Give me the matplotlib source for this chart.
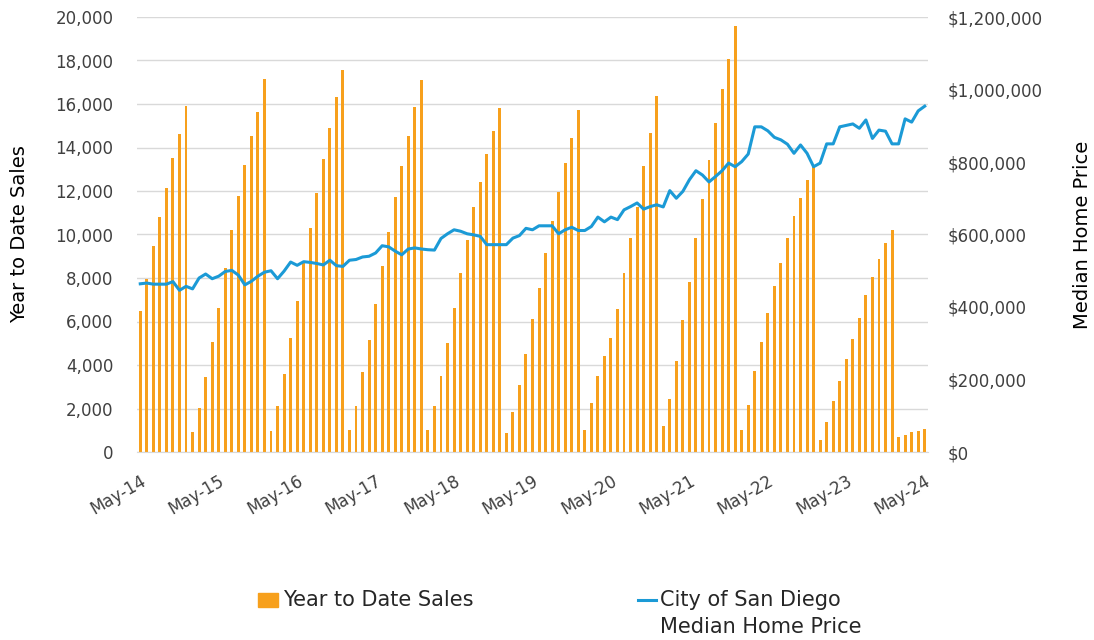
import matplotlib as mpl
import matplotlib.pyplot as plt
from matplotlib.patches import Rectangle
from matplotlib.lines import Line2D
from matplotlib.ticker import FuncFormatter

mpl.rcParams.update({
    'font.family': ['DejaVu Sans'],
    'text.color': '#404040',
    'xtick.color': '#404040',
    'ytick.color': '#404040',
})

# Monthly data, May-14 .. May-24
ytd_sales = [
    6500, 7950, 9480, 10790, 12150, 13530, 14610, 15920,                       # 2014
    920, 2020, 3440, 5080, 6630, 8460, 10210, 11770, 13190, 14550, 15650, 17130,  # 2015
    980, 2120, 3600, 5250, 6920, 8690, 10280, 11920, 13470, 14900, 16340, 17570,  # 2016
    1020, 2120, 3660, 5150, 6790, 8570, 10110, 11710, 13150, 14550, 15880, 17120,  # 2017
    1020, 2120, 3500, 4990, 6630, 8230, 9730, 11250, 12400, 13700, 14780, 15820,  # 2018
    870, 1850, 3100, 4520, 6120, 7540, 9150, 10630, 11940, 13300, 14440, 15710,   # 2019
    1020, 2230, 3500, 4410, 5250, 6580, 8230, 9820, 11280, 13150, 14670, 16380,   # 2020
    1210, 2430, 4180, 6060, 7820, 9820, 11630, 13420, 15120, 16670, 18090, 19590,  # 2021
    1020, 2170, 3730, 5080, 6400, 7650, 8690, 9820, 10840, 11700, 12500, 13100,   # 2022
    570, 1360, 2340, 3270, 4290, 5210, 6170, 7210, 8050, 8870, 9600, 10210,       # 2023
    690, 790, 920, 980, 1040,                                                    # 2024
]

# median price in $ thousands
median_price_k = [
    464, 466, 463, 463, 463, 470, 446, 457, 450, 480, 491, 478, 485, 498, 501, 488,
    461, 471, 485, 496, 500, 478, 499, 524, 515, 525, 523, 520, 516, 529, 514,
    512, 529, 531, 538, 540, 549, 569, 566, 554, 544, 560, 563, 560, 558, 557,
    589, 602, 613, 609, 602, 599, 595, 572, 572, 572, 572, 590, 597, 617, 613, 624,
    624, 624, 602, 613, 620, 611, 611, 622, 648, 635, 648, 641, 668, 677, 687, 670,
    677, 682, 676, 721, 700, 719, 751, 776, 764, 745, 760, 776, 797, 787,
    801, 822, 897, 897, 886, 868, 861, 849, 824, 847, 824, 787, 797, 850, 850, 897,
    901, 905, 893, 916, 865, 888, 885, 850, 850, 919, 910, 941, 954,
]
median_price = [v * 1000 for v in median_price_k]

tick_labels = ['May-14', 'May-15', 'May-16', 'May-17', 'May-18', 'May-19',
               'May-20', 'May-21', 'May-22', 'May-23', 'May-24']

C_BAR = '#F7A01C'
C_LINE = '#1B9AD6'
W, H = 1094, 640

fig = plt.figure(figsize=(W / 100, H / 100), dpi=100)
ax = fig.add_axes([137 / W, 1 - 452 / H, 791 / W, 435 / H])
ax2 = ax.twinx()

x = list(range(len(ytd_sales)))
ax.bar(x, ytd_sales, width=0.45, color=C_BAR, zorder=2)
ax2.plot(x, median_price, color=C_LINE, linewidth=2.2, zorder=3)

ax.set_xlim(-0.5, 120.5)
ax.set_ylim(0, 20000)
ax2.set_ylim(0, 1200000)
ax.set_yticks(range(0, 20001, 2000))
ax2.set_yticks(range(0, 1200001, 200000))
ax.yaxis.set_major_formatter(FuncFormatter(lambda v, p: f'{int(v):,}'))
ax2.yaxis.set_major_formatter(FuncFormatter(lambda v, p: f'${int(v):,}'))

ax.set_xticks(range(0, 121, 12))
ax.set_xticklabels(tick_labels, rotation=30, ha='right', rotation_mode='anchor')

ax.grid(axis='y', color='#d9d9d9', linewidth=1.0, zorder=0)
ax.set_axisbelow(True)
for a in (ax, ax2):
    for s in ('top', 'left', 'right', 'bottom'):
        a.spines[s].set_visible(False)
ax.spines['bottom'].set_visible(True)
ax.spines['bottom'].set_color('#d9d9d9')
ax.tick_params(axis='y', length=0, labelsize=12, pad=17)
ax.tick_params(axis='x', length=0, labelsize=12, pad=14)
ax2.tick_params(axis='y', length=0, labelsize=12, pad=14)

ax.set_ylabel('Year to Date Sales', fontsize=14, labelpad=19)
ax2.set_ylabel('Median Home Price', fontsize=14, labelpad=22)

# Legend drawn at figure level to match the original layout
fig.patches.append(Rectangle((258 / W, 1 - 607 / H), 20 / W, 14 / H,
                             transform=fig.transFigure, color=C_BAR))
fig.text(283 / W, 1 - 600 / H, 'Year to Date Sales', fontsize=15,
         va='center', ha='left', color='#262626')
fig.lines.append(Line2D([638 / W, 656 / W], [1 - 600 / H] * 2,
                        transform=fig.transFigure, color=C_LINE, linewidth=2.2))
fig.text(660 / W, 1 - 600 / H, 'City of San Diego', fontsize=15,
         va='center', ha='left', color='#262626')
fig.text(660 / W, 1 - 627 / H, 'Median Home Price', fontsize=15,
         va='center', ha='left', color='#262626')

fig.savefig('out.png', dpi=100)
